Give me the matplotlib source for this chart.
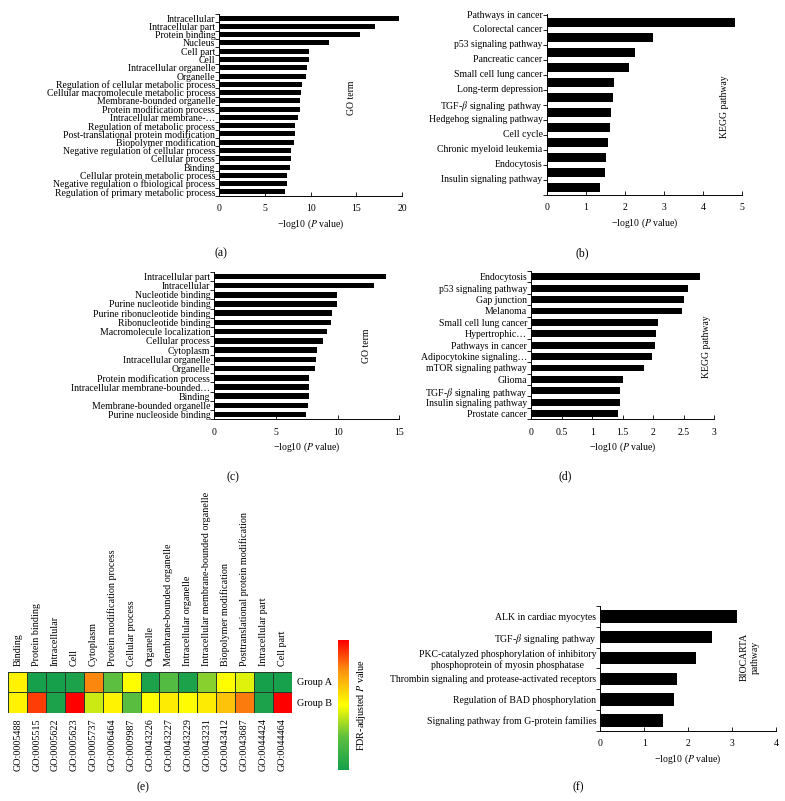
import numpy as np
import matplotlib
matplotlib.use('Agg')
import matplotlib.pyplot as plt
from matplotlib.colors import LinearSegmentedColormap
from matplotlib.ticker import FormatStrFormatter

plt.rcParams['font.family'] = ['Liberation Serif', 'DejaVu Serif']
plt.rcParams['mathtext.fontset'] = 'stix'
plt.rcParams['font.size'] = 7

# (a) GO terms
go_a_terms = ['Intracellular', 'Intracellular part', 'Protein binding', 'Nucleus', 'Cell part', 'Cell',
              'Intracellular organelle', 'Organelle', 'Regulation of cellular metabolic process',
              'Cellular macromolecule metabolic process', 'Membrane-bounded organelle',
              'Protein modification process', 'Intracellular membrane-…', 'Regulation of metabolic process',
              'Post-translational protein modification', 'Biopolymer modification',
              'Negative regulation of cellular process', 'Cellular process', 'Binding',
              'Cellular protein metabolic process', 'Negative regulation o fbiological process',
              'Regulation of primary metabolic process']
go_a_vals = [19.7, 17.0, 15.4, 12.0, 9.8, 9.8, 9.6, 9.5, 9.1, 8.9, 8.8, 8.8, 8.6, 8.3, 8.3, 8.2,
             7.9, 7.8, 7.7, 7.45, 7.4, 7.2]

# (b) KEGG pathways
kegg_b_terms = ['Pathways in cancer', 'Colorectal cancer', 'p53 signaling pathway', 'Pancreatic cancer',
                'Small cell lung cancer', 'Long-term depression', r'TGF-$\beta$ signaling pathway',
                'Hedgehog signaling pathway', 'Cell cycle', 'Chronic myeloid leukemia', 'Endocytosis',
                'Insulin signaling pathway']
kegg_b_vals = [4.82, 2.73, 2.26, 2.10, 1.72, 1.70, 1.64, 1.62, 1.56, 1.52, 1.48, 1.35]

# (c) GO terms
go_c_terms = ['Intracellular part', 'Intracellular', 'Nucleotide binding', 'Purine nucleotide binding',
              'Purine ribonucleotide binding', 'Ribonucleotide binding', 'Macromolecule localization',
              'Cellular process', 'Cytoplasm', 'Intracellular organelle', 'Organelle',
              'Protein modification process', 'Intracellular membrane-bounded…', 'Binding',
              'Membrane-bounded organelle', 'Purine nucleoside binding']
go_c_vals = [13.9, 12.94, 9.97, 9.94, 9.54, 9.5, 9.16, 8.78, 8.35, 8.27, 8.16, 7.7, 7.65, 7.65, 7.62, 7.4]

# (d) KEGG pathways
kegg_d_terms = ['Endocytosis', 'p53 signaling pathway', 'Gap junction', 'Melanoma', 'Small cell lung cancer',
                'Hypertrophic…', 'Pathways in cancer', 'Adipocytokine signaling…', 'mTOR signaling pathway',
                'Glioma', r'TGF-$\beta$ signaling pathway', 'Insulin signaling pathway', 'Prostate cancer']
kegg_d_vals = [2.77, 2.57, 2.5, 2.47, 2.07, 2.04, 2.03, 1.98, 1.84, 1.51, 1.46, 1.46, 1.42]

# (e) heatmap
heat_terms = ['Binding', 'Protein binding', 'Intracellular', 'Cell', 'Cytoplasm', 'Protein modification process',
              'Cellular process', 'Organelle', 'Membrane-bounded organelle', 'Intracellular organelle',
              'Intracellular membrane-bounded organelle', 'Biopolymer modification',
              'Posttranslational protein modification', 'Intracellular part', 'Cell part']
heat_ids = ['GO:0005488', 'GO:0005515', 'GO:0005622', 'GO:0005623', 'GO:0005737', 'GO:0006464',
            'GO:0009987', 'GO:0043226', 'GO:0043227', 'GO:0043229', 'GO:0043231', 'GO:0043412',
            'GO:0043687', 'GO:0044424', 'GO:0044464']
heat_groups = ['Group A', 'Group B']
group_a = [0.53, 0.0, 0.0, 0.02, 0.78, 0.25, 0.5, 0.02, 0.22, 0.02, 0.32, 0.5, 0.45, 0.0, 0.01]
group_b = [0.53, 0.9, 0.02, 1.0, 0.42, 0.53, 0.24, 0.5, 0.55, 0.51, 0.55, 0.65, 0.8, 0.02, 1.0]

# (f) BIOCARTA pathways
bio_terms = ['ALK in cardiac myocytes', r'TGF-$\beta$ signaling pathway',
             'PKC-catalyzed phosphorylation of inhibitory\nphosphoprotein of myosin phosphatase',
             'Thrombin signaling and protease-activated receptors', 'Regulation of BAD phosphorylation',
             'Signaling pathway from G-protein families']
bio_vals = [3.12, 2.55, 2.19, 1.75, 1.67, 1.43]

W, H = 785, 801
XLAB = '−log10 ($P$ value)'


def rect(l, t, r, b):
    return [l / W, 1 - b / H, (r - l) / W, (b - t) / H]


def bar_panel(fig, box, labels, values, xmax, step, ylab, ylab_pos, fmt='%g', edge_labels=False):
    ax = fig.add_axes(rect(*box))
    n = len(labels)
    pos = np.arange(n)
    ax.barh(pos, values, height=0.6, color='black')
    ax.set_xlim(0, xmax)
    ax.set_ylim(n - 0.5, -0.5)
    ax.set_xticks(np.arange(0, xmax + step / 2, step))
    ax.xaxis.set_major_formatter(FormatStrFormatter(fmt))
    ax.set_yticks(np.arange(n + 1) - 0.5, minor=True)
    if edge_labels:
        ax.set_yticks(pos - 0.6, labels)
    else:
        ax.set_yticks(pos, labels)
    for t in ax.get_yticklabels():
        t.set_multialignment('center')
    ax.tick_params(axis='y', which='major', length=0, pad=3)
    ax.tick_params(axis='y', which='minor', length=3, direction='out', width=0.6)
    ax.tick_params(axis='x', direction='in', length=3, width=0.6, pad=6)
    for s in ['top', 'right']:
        ax.spines[s].set_visible(False)
    for s in ['left', 'bottom']:
        ax.spines[s].set_linewidth(0.7)
    ax.set_xlabel(XLAB, labelpad=3)
    ax.text(ylab_pos[0], ylab_pos[1], ylab, rotation=90, transform=ax.transAxes,
            ha='center', va='center', multialignment='center')
    return ax


fig = plt.figure(figsize=(7.85, 8.01), dpi=100)

bar_panel(fig, (219.3, 14, 402, 196), go_a_terms, go_a_vals, 20, 5, 'GO term', (0.726, 0.54))
bar_panel(fig, (546.7, 14, 742.3, 195), kegg_b_terms, kegg_b_vals, 5, 1, 'KEGG pathway', (0.91, 0.49),
          edge_labels=True)
bar_panel(fig, (214.3, 271.7, 399.3, 419.3), go_c_terms, go_c_vals, 15, 5, 'GO term', (0.824, 0.5))
bar_panel(fig, (531.3, 271, 714.3, 419.3), kegg_d_terms, kegg_d_vals, 3, 0.5, 'KEGG pathway', (0.955, 0.49))
bar_panel(fig, (600.3, 606, 776, 730.7), bio_terms, bio_vals, 4, 1, 'BIOCARTA\npathway', (0.85, 0.59))

# heatmap
cmap = LinearSegmentedColormap.from_list('fdr', [(0, '#16a04c'), (0.25, '#5cbf3f'), (0.5, '#ffff00'),
                                                 (0.75, '#fb9a10'), (1, '#ff0000')])
ax = fig.add_axes(rect(8.3, 671.7, 291.7, 712.7))
data = np.array([group_a, group_b])
mesh = ax.pcolormesh(data, cmap=cmap, vmin=0, vmax=1, edgecolors='#2a3a2a', linewidth=0.5)
ax.set_xlim(0, len(heat_ids))
ax.set_ylim(2, 0)
ax.set_xticks(np.arange(len(heat_ids)) + 0.5, heat_ids, rotation=90, fontsize=7.3)
ax.set_yticks([0.5, 1.5], heat_groups, fontsize=7.3)
ax.yaxis.tick_right()
ax.tick_params(axis='both', length=0, pad=4)
for s in ax.spines.values():
    s.set_visible(False)
top = ax.secondary_xaxis('top')
top.set_xticks(np.arange(len(heat_terms)) + 0.5, heat_terms, rotation=90, fontsize=7.3)
top.tick_params(length=0, pad=4)
for s in top.spines.values():
    s.set_visible(False)

cax = fig.add_axes(rect(338, 640, 349, 770))
cb = fig.colorbar(mesh, cax=cax)
cb.set_ticks([])
cb.outline.set_visible(False)
cax.text(2.1, 0.5, 'FDR-adjusted $P$ value', rotation=90, transform=cax.transAxes,
         ha='center', va='center', fontsize=7.3)

# panel tags
for tag, x, y in [('(a)', 221, 253), ('(b)', 582, 253), ('(c)', 233, 477), ('(d)', 565, 476),
                  ('(e)', 143, 787), ('(f)', 578, 787)]:
    fig.text(x / W, 1 - y / H, tag, ha='center', va='center', fontsize=8.5)

fig.savefig('out.png', dpi=100)
